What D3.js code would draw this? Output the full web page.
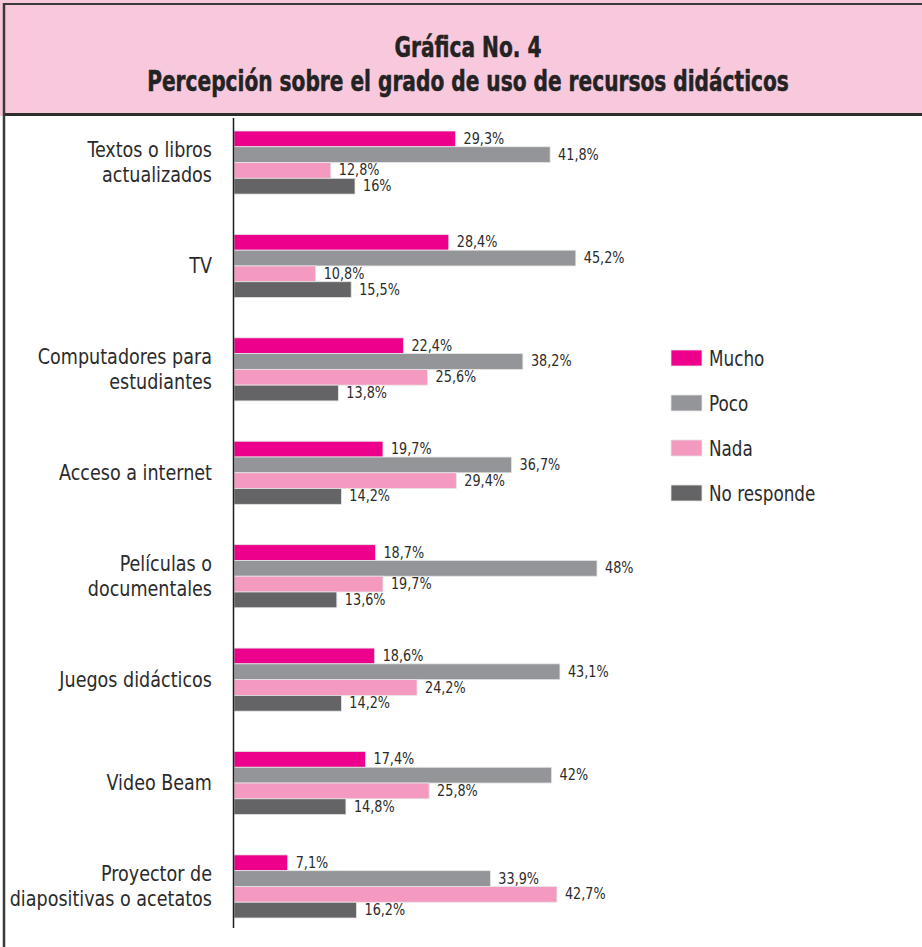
<!DOCTYPE html>
<html>
<head>
<meta charset="utf-8">
<script src="https://cdn.jsdelivr.net/npm/d3@7"></script>
<style>
  html, body { margin: 0; padding: 0; background: #fff; }
  svg { display: block; }
</style>
</head>
<body>
<svg id="chart"></svg>
<script>
// data
const categories = [
  'Textos o libros|actualizados',
  'TV',
  'Computadores para|estudiantes',
  'Acceso a internet',
  'Películas o|documentales',
  'Juegos didácticos',
  'Video Beam',
  'Proyector de|diapositivas o acetatos'
];
const seriesNames = ['Mucho', 'Poco', 'Nada', 'No responde'];
const mucho = [29.3, 28.4, 22.4, 19.7, 18.7, 18.6, 17.4, 7.1];
const poco = [41.8, 45.2, 38.2, 36.7, 48, 43.1, 42, 33.9];
const nada = [12.8, 10.8, 25.6, 29.4, 19.7, 24.2, 25.8, 42.7];
const noResponde = [16, 15.5, 13.8, 14.2, 13.6, 14.2, 14.8, 16.2];
const colors = ['#ec008c', '#939598', '#f49ac1', '#646466'];
const titleLines = ['Gráfica No. 4', 'Percepción sobre el grado de uso de recursos didácticos'];

const W = 922, H = 947;
const font = "'Liberation Sans Narrow', 'DejaVu Sans Condensed', sans-serif";
const textColor = '#2b2b2b';

// squeeze text horizontally around its anchor x (condensed look)
function squeeze(sel, sx, ax) {
  sel.attr('transform', 'matrix(' + sx + ',0,0,1,' + (ax * (1 - sx)) + ',0)');
}

const svg = d3.select('#chart').attr('width', W).attr('height', H);

const rows = categories.map((c, i) => ({
  cat: c,
  vals: [mucho[i], poco[i], nada[i], noResponde[i]]
}));

// title box
svg.append('rect')
  .attr('x', 0).attr('y', 0).attr('width', W).attr('height', 116)
  .attr('fill', '#f8c9dc');
svg.append('line').attr('x1', 3).attr('x2', W).attr('y1', 4).attr('y2', 4)
  .attr('stroke', '#3a3a3a').attr('stroke-width', 2);
svg.append('line').attr('x1', 3).attr('x2', W).attr('y1', 114.5).attr('y2', 114.5)
  .attr('stroke', '#2e2e2e').attr('stroke-width', 3);
// left frame
svg.append('line').attr('x1', 4).attr('x2', 4).attr('y1', 3).attr('y2', H)
  .attr('stroke', '#3a3a3a').attr('stroke-width', 2.5);

svg.selectAll('text.title')
  .data(titleLines).enter()
  .append('text')
  .attr('class', 'title')
  .attr('x', 468)
  .attr('y', (d, i) => 57 + i * 34)
  .attr('text-anchor', 'middle')
  .style('font-family', font)
  .style('font-weight', 'bold')
  .style('font-size', '28px')
  .style('fill', '#232323')
  .style('stroke', '#232323')
  .style('stroke-width', 0.5)
  .text(d => d)
  .call(squeeze, 0.8, 468);

// scales
const x = d3.scaleLinear().domain([0, 48]).range([234, 597]);
const y = d3.scaleBand().domain(categories).range([131, 918]).paddingInner(0.39).paddingOuter(0);
const ySub = d3.scaleBand().domain(seriesNames).range([0, y.bandwidth()]);

const g = svg.append('g');

const groups = g.selectAll('g.cat')
  .data(rows).enter()
  .append('g')
  .attr('class', 'cat')
  .attr('transform', d => 'translate(0,' + y(d.cat) + ')');

groups.selectAll('rect')
  .data(d => d.vals.map((v, i) => ({v: v, s: seriesNames[i], c: colors[i]})))
  .enter()
  .append('rect')
  .attr('x', x(0))
  .attr('y', d => ySub(d.s))
  .attr('width', d => x(d.v) - x(0))
  .attr('height', ySub.bandwidth())
  .attr('fill', d => d.c)
  .attr('stroke', '#e6e6e6')
  .attr('stroke-width', 0.8);

groups.selectAll('text.val')
  .data(d => d.vals.map((v, i) => ({v: v, s: seriesNames[i]})))
  .enter()
  .append('text')
  .attr('class', 'val')
  .attr('x', d => x(d.v) + 8)
  .attr('y', d => ySub(d.s) + ySub.bandwidth() / 2 + 5)
  .style('font-family', font)
  .style('font-size', '15px')
  .style('fill', textColor)
  .text(d => String(d.v).replace('.', ',') + '%')
  .each(function(d) { squeeze(d3.select(this), 0.95, x(d.v) + 8); });

// category labels
groups.each(function(d) {
  const lines = d.cat.split('|');
  const t = d3.select(this).append('text')
    .attr('text-anchor', 'end')
    .style('font-family', font)
    .style('font-size', '21px')
    .style('fill', textColor)
    .call(squeeze, 0.93, 212);
  const mid = y.bandwidth() / 2;
  const lh = 25;
  lines.forEach((l, i) => {
    t.append('tspan')
      .attr('x', 212)
      .attr('y', mid + 7 + (i - (lines.length - 1) / 2) * lh)
      .text(l);
  });
});

// axis line
g.append('line')
  .attr('x1', x(0) - 0.5).attr('x2', x(0) - 0.5)
  .attr('y1', 118).attr('y2', 928)
  .attr('stroke', '#1e1e1e').attr('stroke-width', 1.5);

// legend
const legend = svg.append('g').attr('transform', 'translate(671,350)');
const li = legend.selectAll('g')
  .data(seriesNames).enter()
  .append('g')
  .attr('transform', (d, i) => 'translate(0,' + i * 45 + ')');
li.append('rect')
  .attr('width', 31).attr('height', 16)
  .attr('fill', (d, i) => colors[i])
  .attr('stroke', '#e6e6e6').attr('stroke-width', 0.8);
li.append('text')
  .attr('x', 38).attr('y', 16)
  .style('font-family', font)
  .style('font-size', '21px')
  .style('fill', textColor)
  .text(d => d)
  .call(squeeze, 0.89, 38);
</script>
</body>
</html>
